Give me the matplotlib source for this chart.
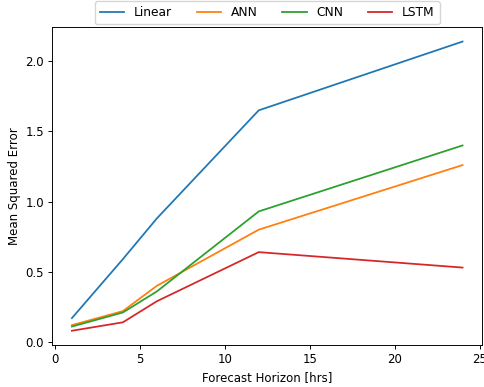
import matplotlib
matplotlib.use("Agg")
import matplotlib.pyplot as plt

# Forecast horizons (hours) and mean squared error per model
horizons = [1, 4, 6, 12, 24]
mse_linear = [0.17, 0.59, 0.88, 1.65, 2.14]
mse_ann = [0.12, 0.22, 0.40, 0.80, 1.26]
mse_cnn = [0.11, 0.21, 0.36, 0.93, 1.40]
mse_lstm = [0.08, 0.14, 0.29, 0.64, 0.53]

series = [
    ("Linear", mse_linear),
    ("ANN", mse_ann),
    ("CNN", mse_cnn),
    ("LSTM", mse_lstm),
]

# Uniformly scaled-down default style
s = 0.85
plt.rcParams.update({
    "font.size": 10 * s,
    "lines.linewidth": 1.5 * s,
    "axes.linewidth": 0.8 * s,
    "xtick.major.size": 3.5 * s,
    "ytick.major.size": 3.5 * s,
    "xtick.major.width": 0.8 * s,
    "ytick.major.width": 0.8 * s,
    "xtick.major.pad": 3.5 * s,
    "ytick.major.pad": 3.5 * s,
    "axes.labelpad": 4.0 * s,
})

fig = plt.figure(figsize=(4.85, 3.87), dpi=100)
ax = fig.add_axes([0.108, 0.108, 0.886, 0.822])

for name, values in series:
    ax.plot(horizons, values, label=name)

ax.set_xlabel("Forecast Horizon [hrs]")
ax.set_ylabel("Mean Squared Error")
ax.legend(loc="lower center", bbox_to_anchor=(0.5, 1.0), ncol=4,
          borderaxespad=0.25, fontsize=8.8)

fig.savefig("out.png", dpi=100)
